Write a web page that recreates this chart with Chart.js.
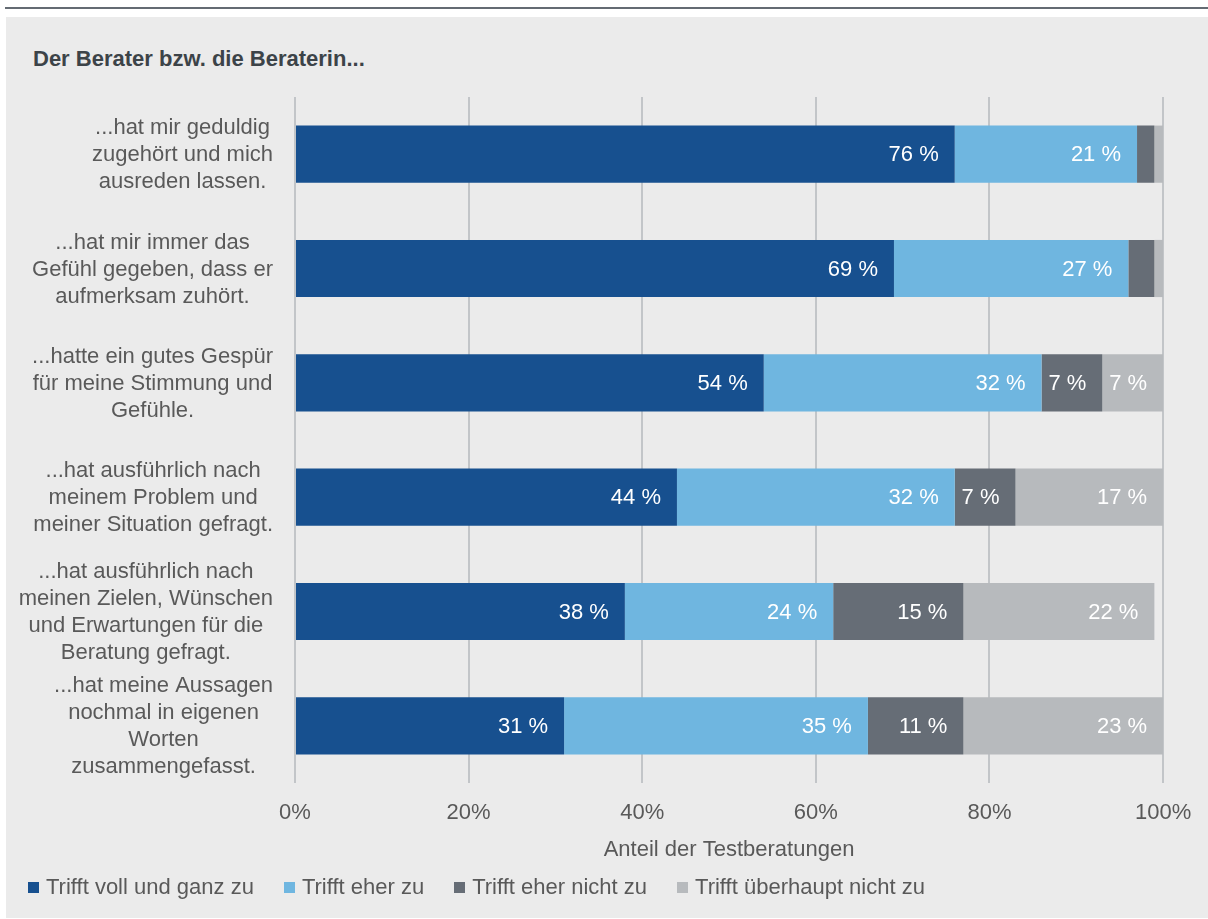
<!DOCTYPE html>
<html lang="de">
<head>
<meta charset="utf-8">
<title>Der Berater bzw. die Beraterin</title>
<script src="https://cdn.jsdelivr.net/npm/chart.js@4.4.1/dist/chart.umd.min.js"></script>
<style>
  body {
    margin: 0;
    width: 1208px;
    height: 919px;
    overflow: hidden;
    position: relative;
    background: #fff;
    font-family: "Liberation Sans", Arial, sans-serif;
  }
  #rule { position: absolute; left: 5px; top: 7px; width: 1203px; height: 2px; background: #646b73; }
  #panel { position: absolute; left: 6px; top: 17px; width: 1202px; height: 901px; background: #ebebeb; }
  #heading {
    position: absolute; left: 33px; top: 48px;
    font-size: 22px; line-height: 22px; font-weight: bold; color: #3c4348;
  }
  #chart { position: absolute; left: 0; top: 0; }
  #legend {
    position: absolute; left: 28px; top: 876px;
    display: flex; align-items: center;
    font-size: 22px; line-height: 22px; color: #595959;
  }
  #legend .item { display: flex; align-items: center; margin-right: 30px; white-space: nowrap; }
  #legend .swatch { display: inline-block; width: 11px; height: 11px; margin-right: 7px; }
</style>
</head>
<body>
<div id="rule"></div>
<div id="panel"></div>
<div id="heading">Der Berater bzw. die Beraterin...</div>
<canvas id="chart" width="1208" height="919"></canvas>
<div id="legend"></div>

<script>
const categories = [
  ["...hat mir geduldig", "zugehört und mich", "ausreden lassen."],
  ["...hat mir immer das", "Gefühl gegeben, dass er", "aufmerksam zuhört."],
  ["...hatte ein gutes Gespür", "für meine Stimmung und", "Gefühle."],
  ["...hat ausführlich nach", "meinem Problem und", "meiner Situation gefragt."],
  ["...hat ausführlich nach", "meinen Zielen, Wünschen", "und Erwartungen für die", "Beratung gefragt."],
  ["...hat meine Aussagen", "nochmal in eigenen", "Worten", "zusammengefasst."]
];

const seriesNames = ["Trifft voll und ganz zu", "Trifft eher zu", "Trifft eher nicht zu", "Trifft überhaupt nicht zu"];
const vollUndGanz = [76, 69, 54, 44, 38, 31];
const eherZu = [21, 27, 32, 32, 24, 35];
const eherNicht = [2, 3, 7, 7, 15, 11];
const ueberhauptNicht = [1, 1, 7, 17, 22, 23];
const seriesColors = ["#17508f", "#6fb6e0", "#666d76", "#b7babd"];

const axisTitle = "Anteil der Testberatungen";
const FONT = '"Liberation Sans", Arial, sans-serif';

// percent labels inside the end of each segment (small ones are left out)
const barLabels = {
  id: "barLabels",
  afterDatasetsDraw(chart) {
    const { ctx } = chart;
    ctx.save();
    ctx.font = "22px " + FONT;
    ctx.fillStyle = "#fff";
    ctx.textAlign = "right";
    ctx.textBaseline = "middle";
    chart.data.datasets.forEach((ds, i) => {
      chart.getDatasetMeta(i).data.forEach((bar, j) => {
        const v = ds.data[j];
        if (v < 5) return;
        ctx.fillText(v + " %", bar.x - 16, bar.y + 1);
      });
    });
    ctx.restore();
  }
};

// category text: each block centred on its own widest line, right edge next to the axis
const rowLabels = {
  id: "rowLabels",
  afterDraw(chart) {
    const { ctx } = chart;
    const y = chart.scales.y;
    const lineH = 27;
    ctx.save();
    ctx.font = "22px " + FONT;
    ctx.fillStyle = "#595959";
    ctx.textAlign = "center";
    ctx.textBaseline = "middle";
    chart.data.labels.forEach((lines, i) => {
      const w = Math.max(...lines.map(l => ctx.measureText(l).width));
      const cx = y.right - 22 - w / 2;
      const cy = y.getPixelForTick(i) + 1;
      lines.forEach((l, k) => {
        ctx.fillText(l, cx, cy + (k - (lines.length - 1) / 2) * lineH);
      });
    });
    ctx.restore();
  }
};

const htmlLegend = {
  id: "htmlLegend",
  afterUpdate(chart) {
    const box = document.getElementById("legend");
    box.innerHTML = "";
    chart.data.datasets.forEach(ds => {
      const item = document.createElement("span");
      item.className = "item";
      const sw = document.createElement("span");
      sw.className = "swatch";
      sw.style.background = ds.backgroundColor;
      item.appendChild(sw);
      item.appendChild(document.createTextNode(ds.label));
      box.appendChild(item);
    });
  }
};

const seriesData = [vollUndGanz, eherZu, eherNicht, ueberhauptNicht];

new Chart(document.getElementById("chart"), {
  type: "bar",
  data: {
    labels: categories,
    datasets: seriesNames.map((name, i) => ({
      label: name,
      data: seriesData[i],
      backgroundColor: seriesColors[i],
      borderWidth: 0,
      barPercentage: 0.5,
      categoryPercentage: 1
    }))
  },
  options: {
    indexAxis: "y",
    responsive: false,
    animation: false,
    devicePixelRatio: 1,
    layout: { padding: { left: 0, right: 42, top: 97, bottom: 55.8 } },
    plugins: {
      legend: { display: false },
      tooltip: { enabled: false }
    },
    scales: {
      x: {
        stacked: true,
        min: 0,
        max: 100,
        border: { display: false },
        grid: { color: "#c2c5c8", lineWidth: 2, drawTicks: false },
        ticks: {
          stepSize: 20,
          maxRotation: 0,
          padding: 16.8,
          color: "#595959",
          font: { family: FONT, size: 22 },
          callback: v => v + "%"
        },
        title: {
          display: true,
          text: axisTitle,
          color: "#595959",
          font: { family: FONT, size: 22 },
          padding: { top: 10.6, bottom: 0 }
        },
        // tick labels + axis title, without the doubled tick padding
        afterFit(scale) { scale.height = 80.2; }
      },
      y: {
        stacked: true,
        border: { display: false },
        grid: { display: false, drawTicks: false },
        ticks: { display: false },
        afterFit(scale) { scale.width = 295; }
      }
    }
  },
  plugins: [barLabels, rowLabels, htmlLegend]
});
</script>
</body>
</html>
